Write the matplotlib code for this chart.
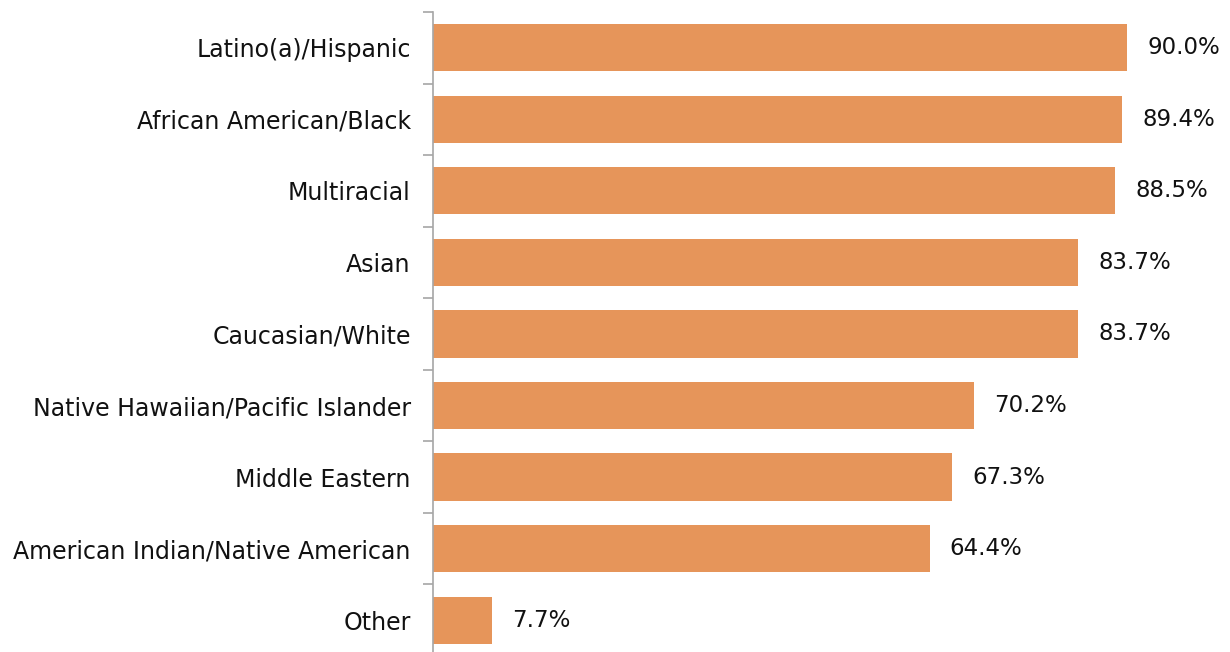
import numpy as np
import matplotlib.pyplot as plt

categories = ["Latino(a)/Hispanic", "African American/Black", "Multiracial", "Asian",
              "Caucasian/White", "Native Hawaiian/Pacific Islander", "Middle Eastern",
              "American Indian/Native American", "Other"]
values = [90.0, 89.4, 88.5, 83.7, 83.7, 70.2, 67.3, 64.4, 7.7]

fig = plt.figure(figsize=(12.3, 6.52), dpi=100)
ax = fig.add_axes([0.352, -0.006, 0.627, 0.9876])

y = np.arange(len(categories))
ax.barh(y, values, height=0.66, color="#E6955A")
for yi, v in zip(y, values):
    ax.text(v + 2.6, yi, f"{v:.1f}%", va="center", ha="left", fontsize=16.5, color="#111111")

ax.set_xlim(0, 100)
ax.set_ylim(len(categories) - 0.5, -0.5)
ax.set_yticks(y)
ax.set_yticklabels(categories, fontsize=17, color="#111111")
ax.tick_params(axis="y", which="major", length=0, pad=16)
ax.set_yticks(np.arange(-0.5, len(categories), 1), minor=True)
ax.tick_params(axis="y", which="minor", length=7, color="#A6A6A6", width=1.2)
ax.set_xticks([])
for s in ["top", "right", "bottom"]:
    ax.spines[s].set_visible(False)
ax.spines["left"].set_color("#A6A6A6")
ax.spines["left"].set_linewidth(1.2)

fig.savefig("out.png", dpi=100)
